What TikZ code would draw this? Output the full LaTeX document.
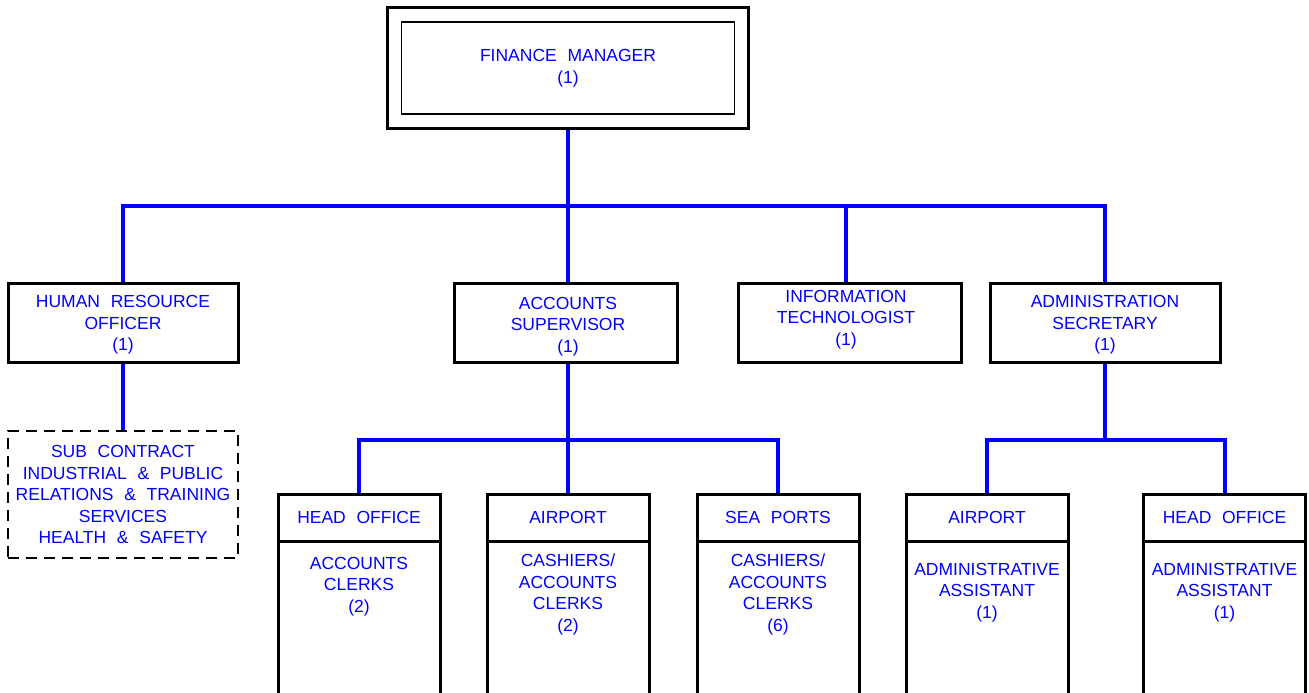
\documentclass[tikz,border=0pt]{standalone}
\usepackage{fontspec}
\setmainfont{Liberation Sans}[WordSpace=2.2]
\usepackage{tikz}
\usetikzlibrary{calc}

\newcommand{\orgfont}{\fontsize{17.5}{21.5}\selectfont}

\tikzset{
  post/.style={draw=black, line width=3pt, align=center, text=blue, font=\orgfont, inner sep=0pt, outer sep=0pt},
  hrpost/.style={post, minimum width=230pt, minimum height=79pt},
  midpost/.style={post, minimum width=223pt, minimum height=79pt},
  subpost/.style={post, dashed, dash pattern=on 11pt off 7pt, line width=2.4pt, minimum width=230pt, minimum height=127pt},
  place/.style={post, minimum width=162pt, minimum height=47pt},
  tag/.style={align=center, text=blue, font=\orgfont, inner sep=0pt},
  staff/.style={tag, anchor=north},
  wire/.style={draw=blue, line width=4pt, shorten <=1.5pt, shorten >=1.5pt},
  wall/.style={draw=black, line width=3pt}
}

\begin{document}
\begin{tikzpicture}[x=1pt,y=1pt,yscale=-1,xscale=1]
\useasboundingbox (0,0) rectangle (1309,693); %keep the whole page

% Top post
\node [post, line width=3pt, minimum width=361pt, minimum height=120pt] (fm) at (568,68) {};
\node [post, line width=1.4pt, minimum width=333pt, minimum height=92pt] (fmin) at (568,68) {FINANCE MANAGER\\(1)};

% Second row
\node [hrpost] (hr) at (123,322.5) {};
\node [midpost] (acc) at (566,322.5) {};
\node [midpost] (it) at (849.5,322.5) {};
\node [hrpost] (sec) at (1105,322.5) {};
\node [tag] (hrtext) at (123,325) {HUMAN RESOURCE\\OFFICER\\(1)};
\node [tag] (acctext) at (568,326.5) {ACCOUNTS\\SUPERVISOR\\(1)};
\node [tag] (ittext) at (846,319.5) {INFORMATION\\TECHNOLOGIST\\(1)};
\node [tag] (sectext) at (1105,325) {ADMINISTRATION\\SECRETARY\\(1)};

% Sub contract (dashed)
\node [subpost] (sub) at (123,494.5) {SUB CONTRACT\\INDUSTRIAL \& PUBLIC\\RELATIONS \& TRAINING\\SERVICES\\HEALTH \& SAFETY};

% Third row headers
\node [place] (ho) at (359,517.5) {HEAD OFFICE};
\node [place] (ap) at (568,517.5) {AIRPORT};
\node [place] (sp) at (778,517.5) {SEA PORTS};
\node [place] (aap) at (987,517.5) {AIRPORT};
\node [place] (aho) at (1224.5,517.5) {HEAD OFFICE};

% Open columns below the headers
\foreach \p in {ho,ap,sp,aap,aho}{
  \draw [wall] (\p.south west) -- ($(\p.south west)+(0,160)$);
  \draw [wall] (\p.south east) -- ($(\p.south east)+(0,160)$);
}

% Staff in each column
\node [staff] (hostaff) at ($(ho.south)+(0,16)$) {ACCOUNTS\\CLERKS\\(2)};
\node [staff] (apstaff) at ($(ap.south)+(0,13)$) {CASHIERS/\\ACCOUNTS\\CLERKS\\(2)};
\node [staff] (spstaff) at ($(sp.south)+(0,13)$) {CASHIERS/\\ACCOUNTS\\CLERKS\\(6)};
\node [staff] (aapstaff) at ($(aap.south)+(0,22)$) {ADMINISTRATIVE\\ASSISTANT\\(1)};
\node [staff] (ahostaff) at ($(aho.south)+(0,22)$) {ADMINISTRATIVE\\ASSISTANT\\(1)};

% Connectors
\coordinate (busA) at (568,206);
\coordinate (busB) at (568,440);
\coordinate (busC) at (1105,440);

\draw [wire] (fm.south) -- (fm.south |- acc.north);
\draw [wire] (hr.north) |- (busA) -| (sec.north);
\draw [wire] ($(it.north)+(-3.5,0)$) -- ($(it.north |- busA)+(-3.5,0)$);
\draw [wire] (hr.south) -- (sub.north);

\draw [wire] (fm.south |- acc.south) -- (ap.north);
\draw [wire] (ho.north) |- (busB) -| (sp.north);

\draw [wire] (sec.south) -- (busC);
\draw [wire] (aap.north) |- (busC) -| (aho.north);
\end{tikzpicture}
\end{document}
